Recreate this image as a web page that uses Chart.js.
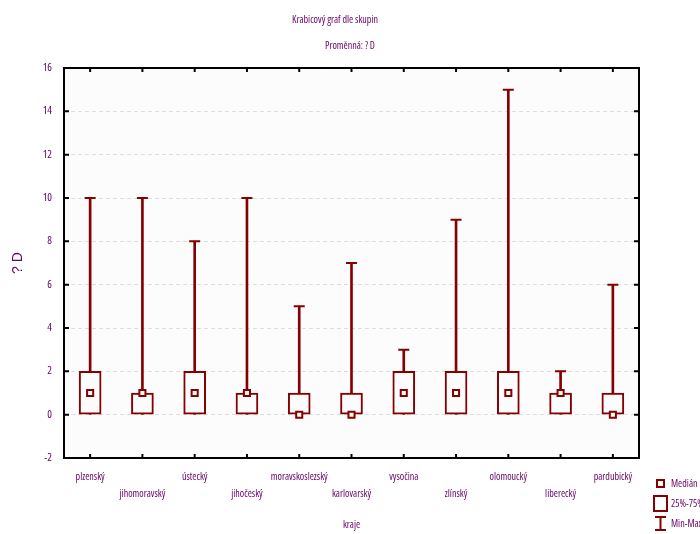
<!DOCTYPE html>
<html>
<head>
<meta charset="utf-8">
<script src="https://cdn.jsdelivr.net/npm/chart.js@4/dist/chart.umd.min.js"></script>
<style>
  html, body { margin: 0; padding: 0; background: #fff; }
  #wrap { width: 700px; height: 534px; position: relative; }
</style>
</head>
<body>
<div id="wrap"><canvas id="boxChart" width="700" height="534"></canvas></div>
<script>
// data
const categories = ['plzenský', 'jihomoravský', 'ústecký', 'jihočeský', 'moravskoslezský',
    'karlovarský', 'vysočina', 'zlínský', 'olomoucký', 'liberecký', 'pardubický'];
const mins    = [0, 0, 0, 0, 0, 0, 0, 0, 0, 0, 0];
const q1s     = [0, 0, 0, 0, 0, 0, 0, 0, 0, 0, 0];
const medians = [1, 1, 1, 1, 0, 0, 1, 1, 1, 1, 0];
const q3s     = [2, 1, 2, 1, 1, 1, 2, 2, 2, 1, 1];
const maxs    = [10, 10, 8, 10, 5, 7, 3, 9, 15, 2, 6];

const yMin = -2, yMax = 16, yStep = 2;

const DARK_RED = '#850000';
const TEXT = '#660066';
const FONT = "'Open Sans', sans-serif";
// Chart.js rejects 'condensed' as a style, but the weight slot is passed
// straight into the font string -> "condensed 10px 'Open Sans'"
const NARROW = 'condensed';

// staggered labels: every second one goes on the 2nd line
const xLabels = categories.map((c, i) => i % 2 === 0 ? c : ['', c]);

// frame, inner ticks, titles and legend
const decorPlugin = {
    id: 'decor',
    beforeDraw(chart) {
        const { ctx, chartArea: a } = chart;
        ctx.save();
        ctx.fillStyle = '#fcfcfc';
        ctx.fillRect(a.left, a.top, a.right - a.left, a.bottom - a.top);
        ctx.restore();
    },
    afterDraw(chart) {
        const { ctx, chartArea: a, scales } = chart;
        ctx.save();
        // frame
        ctx.strokeStyle = '#000';
        ctx.lineWidth = 2;
        ctx.strokeRect(a.left, a.top, a.right - a.left, a.bottom - a.top);
        // inward ticks
        ctx.beginPath();
        for (let v = yMin; v <= yMax; v += yStep) {
            const y = scales.y.getPixelForValue(v);
            ctx.moveTo(a.left, y); ctx.lineTo(a.left + 5, y);
            ctx.moveTo(a.right, y); ctx.lineTo(a.right - 5, y);
        }
        categories.forEach((c, i) => {
            const x = scales.x.getPixelForValue(i);
            ctx.moveTo(x, a.top); ctx.lineTo(x, a.top + 4);
            ctx.moveTo(x, a.bottom); ctx.lineTo(x, a.bottom - 4);
        });
        ctx.stroke();

        // titles
        ctx.fillStyle = TEXT;
        ctx.font = NARROW + ' 10px ' + FONT;
        ctx.textAlign = 'center';
        ctx.textBaseline = 'middle';
        ctx.fillText('Krabicový graf dle skupin', 335, 20);
        ctx.fillText('Proměnná: ? D', 350, 46);

        // legend
        ctx.strokeStyle = DARK_RED;
        ctx.lineWidth = 2;
        ctx.strokeRect(657, 480, 7, 7);
        ctx.strokeRect(654, 496, 13, 15);
        ctx.beginPath();
        ctx.moveTo(660.5, 516); ctx.lineTo(660.5, 531);
        ctx.moveTo(655, 517); ctx.lineTo(666, 517);
        ctx.moveTo(655, 530); ctx.lineTo(666, 530);
        ctx.stroke();
        ctx.textAlign = 'left';
        ctx.fillText('Medián', 671, 484);
        ctx.fillText('25%-75%', 671, 504);
        ctx.fillText('Min-Max', 671, 524);
        ctx.restore();
    }
};

const ctx = document.getElementById('boxChart');
new Chart(ctx.getContext('2d'), {
    type: 'bar',
    data: {
        labels: xLabels,
        datasets: [
            {
                // median marker
                type: 'line',
                data: medians,
                showLine: false,
                pointStyle: 'rect',
                pointRadius: 4.3,
                pointBorderWidth: 2,
                pointBorderColor: DARK_RED,
                pointBackgroundColor: '#fcfcfc',
                order: 0
            },
            {
                // whisker caps
                type: 'line',
                data: maxs,
                showLine: false,
                pointStyle: 'line',
                pointRadius: 5.5,
                pointBorderWidth: 2,
                pointBorderColor: DARK_RED,
                order: 1
            },
            {
                // 25%-75% box
                data: q1s.map((v, i) => [v, q3s[i]]),
                backgroundColor: '#fcfcfc',
                borderColor: DARK_RED,
                borderWidth: 2,
                borderSkipped: false,
                barThickness: 22,
                grouped: false,
                order: 2
            },
            {
                // whisker line q3 -> max
                data: q3s.map((v, i) => [v, maxs[i]]),
                backgroundColor: DARK_RED,
                borderWidth: 0,
                barThickness: 2,
                grouped: false,
                order: 3
            },
            {
                // lower whisker min -> q1
                data: mins.map((v, i) => [v, q1s[i]]),
                backgroundColor: DARK_RED,
                borderWidth: 0,
                barThickness: 2,
                grouped: false,
                order: 3
            }
        ]
    },
    options: {
        responsive: false,
        animation: false,
        layout: { padding: { left: 0, right: 61, top: 68, bottom: 0 } },
        plugins: {
            legend: { display: false },
            tooltip: { enabled: false },
            title: { display: false }
        },
        scales: {
            x: {
                grid: { display: false, drawTicks: false },
                border: { display: false },
                ticks: {
                    color: TEXT,
                    padding: 11,
                    maxRotation: 0,
                    autoSkip: false,
                    font: { family: FONT, weight: NARROW, size: 10, lineHeight: 1.7 }
                },
                title: {
                    display: true,
                    text: 'kraje',
                    color: TEXT,
                    font: { family: FONT, weight: NARROW, size: 10 },
                    padding: { top: 0, bottom: 3 }
                },
                afterFit(scale) { scale.height = 76; }
            },
            y: {
                min: yMin,
                max: yMax,
                grid: {
                    color: (c) => (c.tick && (c.tick.value === yMin || c.tick.value === yMax)) ? 'rgba(0,0,0,0)' : '#dddddd',
                    lineWidth: 1,
                    drawTicks: false
                },
                border: { display: false, dash: [4, 3] },
                ticks: {
                    stepSize: yStep,
                    color: TEXT,
                    padding: 12,
                    font: { family: FONT, weight: NARROW, size: 11 }
                },
                title: {
                    display: true,
                    text: '? D',
                    color: TEXT,
                    font: { family: "'Liberation Sans', sans-serif", size: 14 },
                    padding: { top: 10, bottom: 0 }
                },
                afterFit(scale) { scale.width = 64; }
            }
        }
    },
    plugins: [decorPlugin]
});
</script>
</body>
</html>
